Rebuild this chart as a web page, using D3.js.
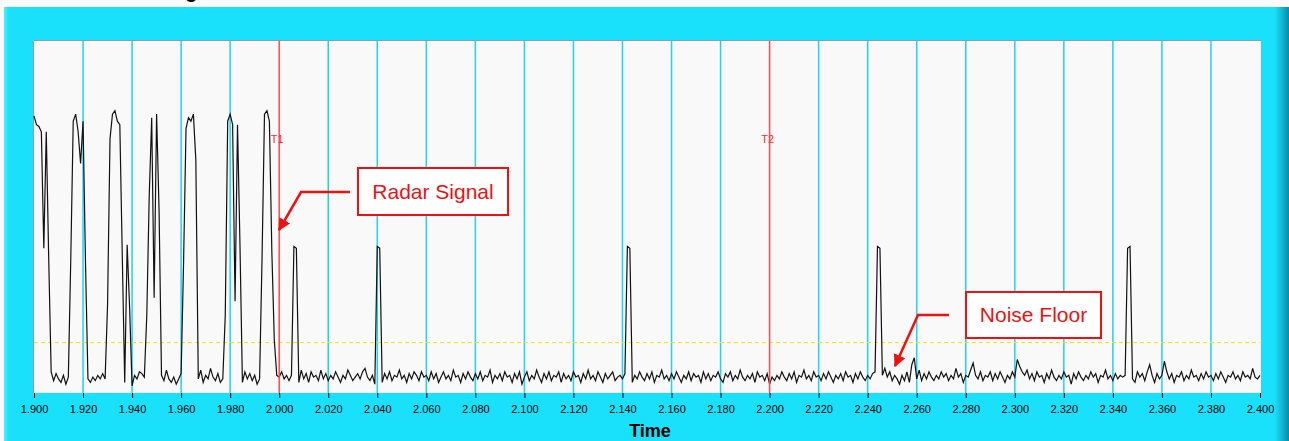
<!DOCTYPE html>
<html lang="en">
<head>
<meta charset="UTF-8">
<script src="https://d3js.org/d3.v7.min.js"></script>
<style>
  body { margin: 0; background: #fafafa; }
  svg { display: block; font-family: Arial, "Liberation Sans", sans-serif; }
</style>
</head>
<body>
<svg width="1289" height="441"></svg>
<script>
// sampled trace, one value per millisecond from 1.900 s
var tStart = 1.900, tStep = 0.001;
var amplitude = [
  78.5, 76, 75.5, 74, 41, 74, 38, 6, 3.5, 5.5, 4, 3, 5, 2.5, 4.5, 38, 77, 79, 74, 65,
  77, 37, 4, 3, 4.5, 3.5, 5, 4, 5.5, 4, 25, 72, 79, 80, 77, 76, 39, 3, 42, 24,
  2, 5, 4, 6, 5.5, 4.5, 22, 56, 78, 27, 79, 52, 5, 3.5, 6.5, 4, 3, 4.5, 2.5, 4,
  5.5, 37, 75, 78, 77, 79, 66, 4, 6.5, 3, 5, 4, 7, 4.5, 3.5, 5.5, 3, 4, 22, 77,
  79, 76, 26, 76, 42, 3, 6, 4, 5.5, 3.5, 5, 2.5, 4, 38, 79, 80, 77, 40, 15, 5,
  4.5, 6, 4, 5, 3.5, 5, 41.5, 41, 3, 6.5, 4, 5.5, 3, 6, 4.5, 5, 3.5, 6.5, 4, 5.5,
  3.5, 5, 4, 6, 4.5, 3, 5, 4, 6.5, 5, 3.5, 4.5, 5.5, 4, 6, 7, 4.5, 3.5, 5, 2.5,
  41.5, 41, 3, 5.5, 4, 6, 3.5, 5, 4.5, 6.5, 4, 5, 3, 5.5, 4, 6, 5, 3.5, 6, 4.5,
  5, 3.5, 6, 4, 5.5, 3, 4.5, 6, 4, 5, 3.5, 6.5, 4.5, 5, 3, 5.5, 4, 6, 4.5, 3.5,
  5.5, 4, 6, 3.5, 5, 4.5, 6.5, 3, 5, 4, 5.5, 3.5, 6, 4.5, 5, 3, 5.5, 4, 6, 2.5,
  4.5, 6, 3.5, 5, 4, 6.5, 4.5, 3, 5.5, 4, 6, 3.5, 5, 4.5, 6, 3, 5.5, 4, 5, 3.5,
  6, 4.5, 5, 3, 5.5, 4, 6.5, 4, 5, 3.5, 6, 4.5, 3, 5.5, 4, 5, 6, 3.5, 4.5, 5,
  4, 5.5, 41.5, 41, 3, 5, 4, 6, 4.5, 3.5, 5.5, 4, 6, 3, 5, 4.5, 6.5, 4, 5, 3.5,
  5.5, 4, 6, 4.5, 3, 5, 4, 6, 3.5, 5.5, 4.5, 5, 3, 6, 4, 5.5, 3.5, 5, 4.5, 6,
  4, 3, 5.5, 4.5, 6, 3.5, 5, 4, 6.5, 4.5, 3.5, 5, 4, 5.5, 3, 6, 4.5, 5, 3.5, 5.5,
  2.5, 4.5, 3.5, 5, 4, 6, 4.5, 3.5, 5.5, 4, 6, 3, 5, 4.5, 6.5, 4, 5, 3.5, 6, 4.5,
  5, 3.5, 5.5, 4, 6, 4.5, 3, 5, 4, 5.5, 3.5, 6, 4.5, 5, 3, 5.5, 4, 6, 4.5, 3.5,
  5, 4, 5.5, 6, 41.5, 41, 5, 7, 4.5, 6, 3.5, 5, 4, 2.5, 5, 3.5, 6, 3, 8, 10,
  4, 6.5, 3.5, 5.5, 4, 6, 4.5, 3.5, 5, 4, 6, 4.5, 5.5, 3.5, 5, 4, 7, 4.5, 5.5, 3,
  5, 4.5, 6.5, 8.5, 5, 4, 6, 3.5, 5, 4.5, 6, 3.5, 5.5, 4, 6, 4.5, 3, 5, 4, 6,
  4.5, 9.5, 7.5, 6, 5, 6.5, 4, 5.5, 3.5, 6, 4.5, 5, 3, 5.5, 4, 6.5, 4.5, 3.5, 5, 4,
  6, 4.5, 5, 2.5, 5.5, 4, 6, 4.5, 3.5, 5, 4, 6, 4.5, 5.5, 3, 5, 4.5, 6.5, 4, 5,
  3.5, 5.5, 4, 5, 4.5, 5, 41, 41.5, 4, 3, 6, 4.5, 5.5, 3.5, 6, 8, 5, 3, 5.5, 4,
  5, 9, 6, 4, 5.5, 3, 5, 4.5, 6, 3.5, 5, 4, 6.5, 4.5, 5, 3.5, 5.5, 4, 6, 4.5,
  5, 3.5, 5.5, 4, 6, 4.5, 3, 5, 4.5, 6, 4, 5, 3.5, 6, 4.5, 5, 4, 7, 4.5, 4,
  5
];
var tickValues = [1.90, 1.92, 1.94, 1.96, 1.98, 2.00, 2.02, 2.04, 2.06, 2.08, 2.10, 2.12, 2.14,
  2.16, 2.18, 2.20, 2.22, 2.24, 2.26, 2.28, 2.30, 2.32, 2.34, 2.36, 2.38, 2.40];
var cursorTimes = [2.000, 2.200];
var cursorNames = ["T1", "T2"];
var threshold = 14.4;

var svg = d3.select("svg");
var plotLeft = 34, plotRight = 1260, plotTop = 40, plotBottom = 393;

var x = d3.scaleLinear().domain([1.9, 2.4]).range([plotLeft, plotRight]);
var y = d3.scaleLinear().domain([0, 100]).range([plotBottom, plotTop]);

// cyan panel
var defs = svg.append("defs");
var grad = defs.append("linearGradient").attr("id", "panel");
grad.append("stop").attr("offset", 0).attr("stop-color", "#42f3ff");
grad.append("stop").attr("offset", 0.004).attr("stop-color", "#19e0fb");
grad.append("stop").attr("offset", 0.989).attr("stop-color", "#19e0fb");
grad.append("stop").attr("offset", 1).attr("stop-color", "#0a8aa8");

svg.append("rect").attr("x", 0).attr("y", 0).attr("width", 1289).attr("height", 441).attr("fill", "#fafafa");
svg.append("rect").attr("x", 4).attr("y", 7).attr("width", 1285).attr("height", 434).attr("fill", "url(#panel)");

// clipped title above the panel
svg.append("text").attr("x", 104).attr("y", -2)
  .attr("font-size", 20).attr("font-weight", "bold").text("Radar Signal");

// plot area
svg.append("rect").attr("x", plotLeft - 1).attr("y", plotTop)
  .attr("width", plotRight - plotLeft + 2).attr("height", plotBottom - plotTop)
  .attr("fill", "#f9f9f9");
svg.append("path").attr("d", "M" + (plotLeft - 0.5) + "," + plotBottom + "V" + (plotTop + 0.5) + "H" + (plotRight + 1))
  .attr("fill", "none").attr("stroke", "#9a9a9a").attr("stroke-width", 1);

// grid
svg.append("g").selectAll("line")
  .data(tickValues.slice(1, -1).filter(function(d) { return cursorTimes.indexOf(d) < 0; }))
  .enter().append("line")
  .attr("x1", function(d) { return x(d); }).attr("x2", function(d) { return x(d); })
  .attr("y1", plotTop + 1).attr("y2", plotBottom)
  .attr("stroke", "#1fd3f2").attr("stroke-width", 1.5);

// threshold
var ty = Math.round(y(threshold)) + 0.5;
svg.append("line").attr("x1", plotLeft).attr("x2", plotRight).attr("y1", ty).attr("y2", ty)
  .attr("stroke", "#f2ea00").attr("stroke-width", 1).attr("stroke-dasharray", "4,3");

// signal
var line = d3.line()
  .x(function(d, i) { return x(tStart + i * tStep); })
  .y(function(d) { return y(d); });
svg.append("path").datum(amplitude).attr("d", line)
  .attr("fill", "none").attr("stroke", "#111").attr("stroke-width", 1.2);

// cursors
svg.append("g").selectAll("line").data(cursorTimes).enter().append("line")
  .attr("x1", function(d) { return x(d); }).attr("x2", function(d) { return x(d); })
  .attr("y1", plotTop + 1).attr("y2", plotBottom)
  .attr("stroke", "#ff4a4a").attr("stroke-width", 1.5);
svg.append("g").selectAll("text").data(cursorTimes).enter().append("text")
  .attr("x", function(d) { return x(d) - 2; }).attr("y", 143)
  .attr("text-anchor", "middle").attr("font-size", 11).attr("fill", "#ff2a2a")
  .text(function(d, i) { return cursorNames[i]; });

// x axis
var axis = svg.append("g").attr("transform", "translate(0," + plotBottom + ")")
  .call(d3.axisBottom(x).tickValues(tickValues).tickFormat(d3.format(".3f")).tickSize(5).tickPadding(7));
axis.select(".domain").remove();
axis.selectAll("line").attr("stroke", "#000");
axis.selectAll("text").attr("font-size", 11).attr("font-family", "Arial, 'Liberation Sans', sans-serif").attr("fill", "#000");

svg.append("text").attr("x", 650).attr("y", 437).attr("text-anchor", "middle")
  .attr("font-size", 18).attr("font-weight", "bold").text("Time");

// callouts
var red = "#ee1111";
defs.append("marker").attr("id", "head")
  .attr("viewBox", "0 0 10 10").attr("refX", 9).attr("refY", 5)
  .attr("markerWidth", 5).attr("markerHeight", 5).attr("orient", "auto")
  .attr("markerUnits", "strokeWidth")
  .append("path").attr("d", "M0,0L10,5L0,10Z").attr("fill", red);

function callout(label, bx, by, bw, bh, path) {
  svg.append("path").attr("d", path).attr("fill", "none")
    .attr("stroke", red).attr("stroke-width", 2.5).attr("marker-end", "url(#head)");
  svg.append("rect").attr("x", bx).attr("y", by).attr("width", bw).attr("height", bh)
    .attr("fill", "#fff").attr("stroke", red).attr("stroke-width", 2);
  svg.append("text").attr("x", bx + bw / 2).attr("y", by + bh / 2 + 7)
    .attr("text-anchor", "middle").attr("font-size", 21).attr("fill", red).text(label);
}
callout("Radar Signal", 358, 168, 150, 47, "M350,192H301L279,230");
callout("Noise Floor", 966, 292, 135, 46, "M949,315H918L895,366");
</script>
</body>
</html>
